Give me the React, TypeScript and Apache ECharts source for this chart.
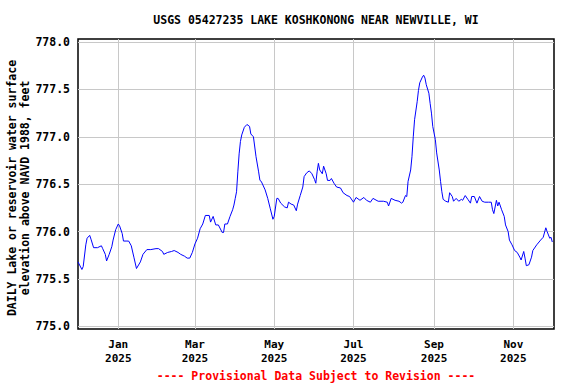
import React, { useEffect, useRef } from "react";
import * as echarts from "echarts";

// Day offsets from 2024-12-01 and daily lake elevation (ft, NAVD 1988)
const dayOffsets = [
  0, 3, 4, 6, 7, 9, 10, 12, 15, 18, 19, 21, 22, 24, 26, 27, 29, 31, 32, 34, 35, 37, 39, 41, 43, 45, 48, 50, 53, 56,
  60, 62, 65, 66, 69, 72, 74, 77, 79, 82, 84, 86, 88, 90, 92, 94, 96, 98, 101, 102, 104, 106, 108, 111, 112, 113, 115, 117, 119, 120,
  121, 122, 123, 124, 125, 126, 128, 130, 132, 133, 135, 137, 139, 140, 141, 144, 146, 148, 150, 151, 153, 154, 156, 159, 161, 162, 164, 166, 168, 169,
  171, 173, 174, 176, 178, 180, 182, 183, 184, 185, 186, 188, 189, 191, 192, 194, 195, 197, 199, 202, 204, 207, 209, 212, 214, 217, 220, 222, 225, 227,
  231, 235, 238, 239, 241, 244, 247, 249, 250, 252, 253, 254, 256, 257, 258, 259, 261, 262, 263, 265, 266, 267, 268, 270, 271, 272, 273, 275, 276, 278,
  279, 280, 281, 283, 285, 286, 288, 289, 291, 293, 295, 296, 298, 300, 302, 303, 305, 307, 309, 311, 313, 316, 318, 319, 320, 322, 323, 324, 326, 328,
  329, 331, 332, 334, 336, 338, 340, 341, 343, 344, 345, 347, 349, 350, 353, 356, 358, 360, 361, 363, 364, 365,
];

const elevations = [
  775.68, 775.6, 775.63, 775.86, 775.93, 775.96, 775.92, 775.83, 775.83, 775.85, 775.82, 775.76, 775.69, 775.76, 775.84, 775.91, 776.02, 776.08, 776.06, 775.98, 775.9, 775.9, 775.9, 775.85, 775.73, 775.61, 775.68, 775.76, 775.81, 775.81,
  775.82, 775.82, 775.79, 775.76, 775.78, 775.79, 775.8, 775.78, 775.76, 775.74, 775.72, 775.72, 775.78, 775.87, 775.93, 776.03, 776.08, 776.17, 776.17, 776.1, 776.16, 776.07, 776.07, 775.99, 775.99, 776.08, 776.08, 776.16, 776.23, 776.28,
  776.35, 776.42, 776.63, 776.82, 776.95, 777.02, 777.1, 777.13, 777.11, 777.03, 777.0, 776.79, 776.63, 776.54, 776.53, 776.44, 776.35, 776.24, 776.13, 776.16, 776.35, 776.35, 776.3, 776.26, 776.25, 776.31, 776.29, 776.28, 776.22, 776.29,
  776.38, 776.47, 776.58, 776.62, 776.64, 776.61, 776.55, 776.51, 776.63, 776.72, 776.65, 776.61, 776.69, 776.61, 776.54, 776.54, 776.56, 776.51, 776.47, 776.46, 776.41, 776.38, 776.37, 776.31, 776.36, 776.33, 776.36, 776.33, 776.31, 776.35,
  776.32, 776.32, 776.31, 776.27, 776.35, 776.33, 776.32, 776.3, 776.31, 776.38, 776.37, 776.53, 776.65, 776.79, 777.0, 777.18, 777.37, 777.49, 777.57, 777.63, 777.65, 777.62, 777.55, 777.46, 777.35, 777.25, 777.11, 776.97, 776.83, 776.65,
  776.53, 776.42, 776.34, 776.32, 776.31, 776.41, 776.37, 776.32, 776.35, 776.32, 776.34, 776.33, 776.38, 776.34, 776.3, 776.37, 776.37, 776.3, 776.37, 776.32, 776.31, 776.31, 776.31, 776.23, 776.19, 776.33, 776.27, 776.31, 776.23, 776.16,
  776.07, 776.0, 775.91, 775.86, 775.8, 775.78, 775.73, 775.7, 775.79, 775.72, 775.64, 775.65, 775.73, 775.8, 775.86, 775.91, 775.94, 776.04, 776.0, 775.93, 775.94, 775.89,
];

const yTicks = [775.0, 775.5, 776.0, 776.5, 777.0, 777.5, 778.0];
const monthTickLabels = ["Jan", "Mar", "May", "Jul", "Sep", "Nov"];
const monthTickYear = 2025;
const monthTickIndex = [0, 2, 4, 6, 8, 10];

const titleText = "USGS 05427235 LAKE KOSHKONONG NEAR NEWVILLE, WI";
const yAxisTitle = "DAILY Lake or reservoir water surface\nelevation above NAVD 1988, feet";
const footerText = "---- Provisional Data Subject to Revision ----";

const FONT = "'DejaVu Sans Mono', 'Liberation Mono', monospace";

export default function App() {
  const ref = useRef<HTMLDivElement>(null);

  useEffect(() => {
    if (!ref.current) return;
    const chart = echarts.init(ref.current, undefined, { renderer: "svg" });
    const DAY = 86400000;
    const start = new Date(2024, 11, 1).getTime();
    const data = dayOffsets.map((d, i) => [d, elevations[i]]);
    const monthTicks = monthTickIndex.map((m) =>
      Math.round((new Date(monthTickYear, m, 1).getTime() - start) / DAY)
    );
    const labelFor = (v: number) => {
      const idx = monthTicks.indexOf(Math.round(v));
      return (idx >= 0 ? monthTickLabels[idx] : "") + "\n" + monthTickYear;
    };

    chart.setOption({
      animation: false,
      backgroundColor: "#ffffff",
      grid: {
        left: 78,
        top: 39,
        right: 22,
        bottom: 55,
        show: true,
        borderColor: "#000000",
        borderWidth: 1.5,
        backgroundColor: "transparent",
      },
      xAxis: {
        type: "value",
        min: 0,
        max: 366.3,
        axisLine: { show: false },
        axisTick: { show: false, customValues: monthTicks },
        splitLine: { show: true, lineStyle: { color: "#c8c8c8", width: 1 } },
        axisLabel: {
          customValues: monthTicks,
          formatter: (v: number) => labelFor(v),
          fontFamily: FONT,
          fontWeight: "bold",
          fontSize: 11,
          color: "#000000",
          lineHeight: 14,
          margin: 8,
          showMinLabel: true,
          showMaxLabel: true,
        },
      },
      yAxis: {
        type: "value",
        min: 774.972,
        max: 778.032,
        axisLine: { show: false },
        axisTick: { show: false, customValues: yTicks },
        splitLine: { show: true, lineStyle: { color: "#c8c8c8", width: 1 } },
        axisLabel: {
          customValues: yTicks,
          formatter: (v: number) => v.toFixed(1),
          fontFamily: FONT,
          fontWeight: "bold",
          fontSize: 11.5,
          color: "#000000",
          margin: 8,
        },
      },
      series: [
        {
          type: "line",
          data,
          showSymbol: false,
          symbol: "none",
          lineStyle: { color: "#0000ff", width: 1 },
          z: 5,
        },
      ],
      graphic: [
        {
          type: "text",
          x: 316,
          y: 20,
          style: {
            text: titleText,
            align: "center",
            verticalAlign: "middle",
            fontFamily: FONT,
            fontWeight: "bold",
            fontSize: 11.5,
            fill: "#000000",
          },
        },
        {
          type: "text",
          x: 18,
          y: 188,
          rotation: Math.PI / 2,
          style: {
            text: yAxisTitle,
            align: "center",
            verticalAlign: "middle",
            fontFamily: FONT,
            fontWeight: "bold",
            fontSize: 11.5,
            lineHeight: 13,
            fill: "#000000",
          },
        },
        {
          type: "text",
          x: 316,
          y: 376,
          style: {
            text: footerText,
            align: "center",
            verticalAlign: "middle",
            fontFamily: FONT,
            fontWeight: "bold",
            fontSize: 11.5,
            fill: "#ff0000",
          },
        },
      ],
    });

    return () => chart.dispose();
  }, []);

  return (
    <div
      ref={ref}
      style={{ position: "fixed", left: 0, top: 0, width: 576, height: 384, background: "#fff" }}
    />
  );
}
